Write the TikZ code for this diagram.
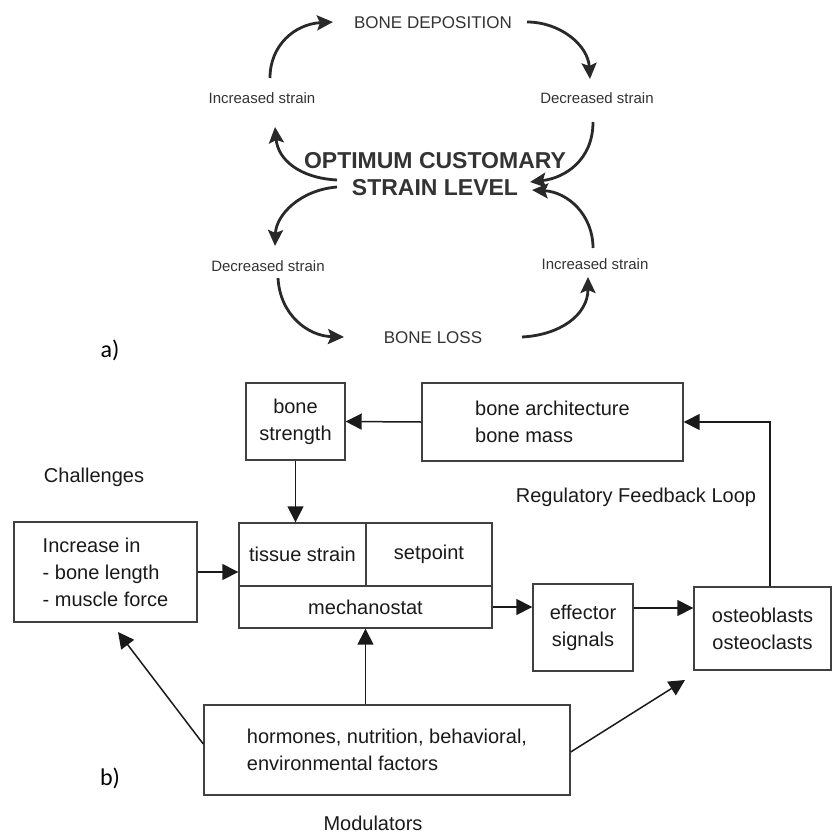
\documentclass[tikz,border=0pt]{standalone}
\usepackage{fontspec}
\setmainfont{Liberation Sans}
\newfontfamily\calfont{Carlito}
\usetikzlibrary{arrows.meta}
\definecolor{inkA}{HTML}{333333}
\definecolor{inkB}{HTML}{1A1A1A}
\definecolor{lineB}{HTML}{404040}
\begin{document}
\begin{tikzpicture}[x=1pt,y=-1pt,
  capA/.style={text=inkA, font=\fontsize{17}{20}\selectfont, inner sep=0pt},
  smallA/.style={text=inkA, font=\fontsize{15}{18}\selectfont, inner sep=0pt},
  bigA/.style={text=inkA, font=\fontsize{23}{28}\selectfont\bfseries, inner sep=0pt},
  arrA/.style={draw=inkA!80!black, line width=2.8pt, -{Stealth[length=16pt,width=15pt,inset=3pt]}},
  boxB/.style={draw=lineB, line width=1.4pt, text=inkB, font=\fontsize{20}{27}\selectfont, align=center, inner sep=0pt},
  txtB/.style={text=inkB, font=\fontsize{20}{27}\selectfont, inner sep=0pt},
  arrB/.style={draw=inkB, line width=1.5pt, -{Triangle[length=16pt,width=16pt]}},
  tag/.style={font=\calfont\fontsize{24}{28}\selectfont, text=black, inner sep=0pt}]
\useasboundingbox (0,0) rectangle (833,835);

% ---------- part a ----------
\node[capA] (dep) at (433,23) {BONE DEPOSITION};
\node[smallA] (isT) at (262,98) {Increased strain};
\node[smallA] (dsT) at (597,98) {Decreased strain};
\node[bigA] (opt1) at (435,161) {OPTIMUM CUSTOMARY};
\node[bigA] (opt2) at (435,188) {STRAIN LEVEL};
\node[smallA] (dsB) at (268,266) {Decreased strain};
\node[smallA] (isB) at (595,264) {Increased strain};
\node[capA] (loss) at (433,338) {BONE LOSS};

\coordinate (a1s) at (270,78);  \coordinate (a1e) at (333,22);
\coordinate (a2s) at (527,22);  \coordinate (a2e) at (590,79);
\coordinate (a3s) at (593,122); \coordinate (a3e) at (530,182);
\coordinate (a4s) at (593,248); \coordinate (a4e) at (532,190);
\coordinate (a5s) at (337,180); \coordinate (a5e) at (275,127);
\coordinate (a6s) at (337,187); \coordinate (a6e) at (275,246);
\coordinate (a7s) at (278,278); \coordinate (a7e) at (344,337);
\coordinate (a8s) at (522,337); \coordinate (a8e) at (588,277);

\draw[arrA] (a1s) .. controls (270,45) and (295,24) .. (a1e);
\draw[arrA] (a2s) .. controls (560,22) and (588,45) .. (a2e);
\draw[arrA] (a3s) .. controls (593,160) and (565,178) .. (a3e);
\draw[arrA] (a4s) .. controls (593,215) and (568,192) .. (a4e);
\draw[arrA] (a5s) .. controls (300,178) and (278,160) .. (a5e);
\draw[arrA] (a6s) .. controls (300,190) and (276,215) .. (a6e);
\draw[arrA] (a7s) .. controls (280,315) and (308,336) .. (a7e);
\draw[arrA] (a8s) .. controls (560,335) and (588,315) .. (a8e);

\node[tag] (ta) at (110,350) {a)};

% ---------- part b ----------
\node[boxB, minimum width=99pt, minimum height=77pt] (bs) at (295.5,421.5) {bone\\strength};
\node[boxB, minimum width=261pt, minimum height=78pt, align=left] (ba) at (552.5,422) {bone architecture\\bone mass};
\node[boxB, minimum width=183pt, minimum height=100pt, align=left] (inc) at (105.5,572) {Increase in\\- bone length\\- muscle force};
\node[boxB, minimum width=127pt, minimum height=63pt] (ts) at (302.5,554.5) {tissue strain};
\node[boxB, minimum width=126pt, minimum height=63pt] (sp) at (429,554.5) {setpoint};
\node[boxB, minimum width=253pt, minimum height=42pt] (mc) at (365.5,607) {mechanostat};
\node[boxB, minimum width=100pt, minimum height=87pt] (eff) at (583,627.5) {effector\\signals};
\node[boxB, minimum width=137pt, minimum height=83pt] (ost) at (762.5,628.5) {osteoblasts\\osteoclasts};
\node[boxB, minimum width=366pt, minimum height=90pt, align=left] (mod) at (387,750) {hormones, nutrition, behavioral,\\environmental factors};

\node[txtB] (chal) at (94,477) {Challenges};
\node[txtB] (reg) at (636,497) {Regulatory Feedback Loop};
\node[txtB] (modl) at (373,823) {Modulators};
\node[tag] (tb) at (110,778) {b)};

\draw[arrB] (ba.west) -- (bs.east);
\draw[arrB] (bs.south) -- (bs.south |- ts.north);
\draw[arrB] (inc.east) -- (inc.east -| ts.west);
\draw[arrB] (mc.east) -- (mc.east -| eff.west);
\draw[arrB] ([yshift=19.5pt]eff.east) -- ([yshift=19.5pt]eff.east -| ost.west);
\draw[arrB] ([xshift=7.5pt]ost.north) |- (ba.east);
\draw[arrB] (mc.south |- mod.north) -- (mc.south);
\coordinate (incin) at (118,632);
\draw[arrB] ([yshift=6pt]mod.west) -- (incin);
\coordinate (ostin) at (685,680);
\draw[arrB] ([yshift=-2pt]mod.east) -- (ostin);
\end{tikzpicture}
\end{document}
